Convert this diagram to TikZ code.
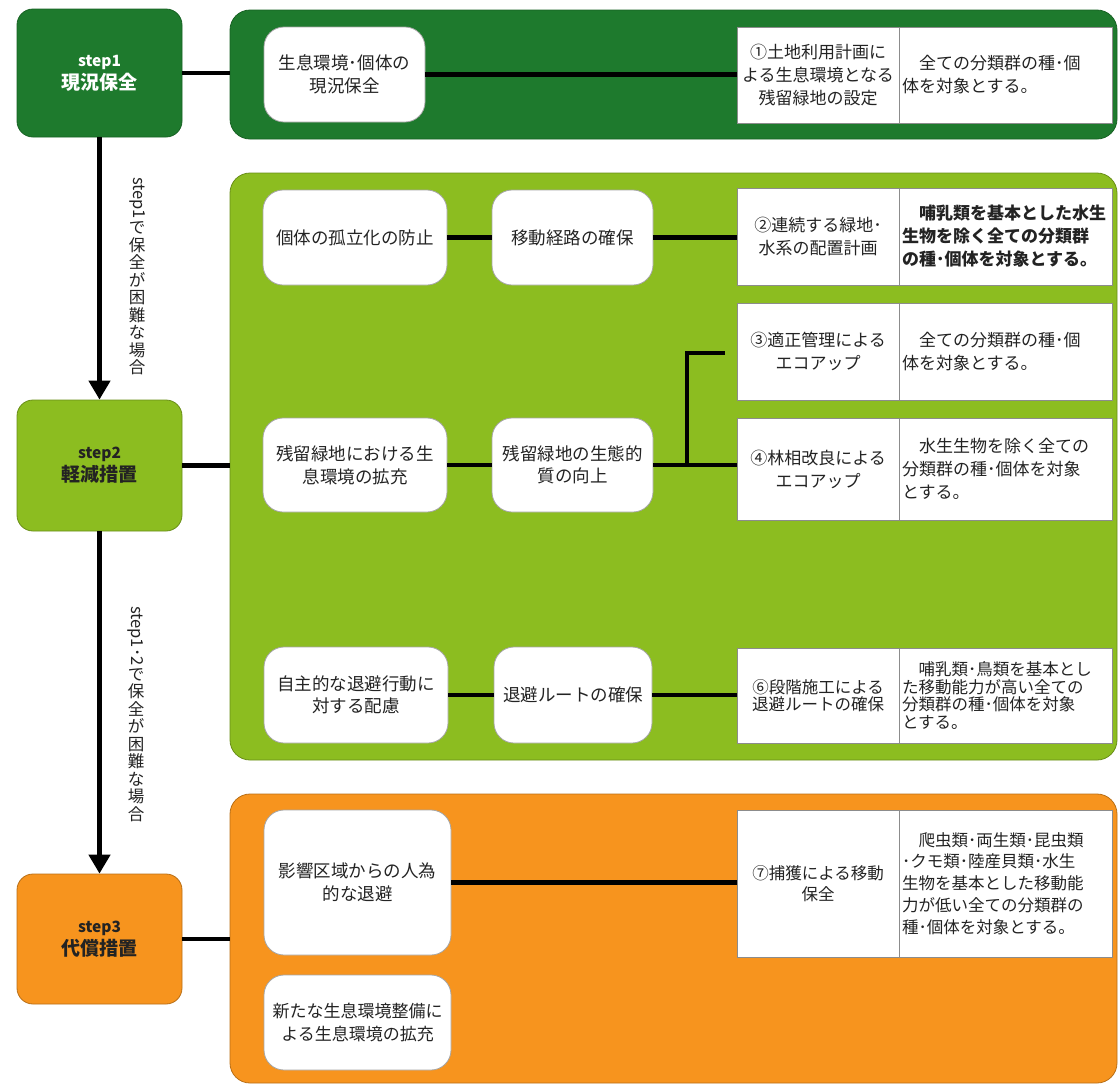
\documentclass[tikz,border=0pt]{standalone}
\usepackage{fontspec}
\usepackage{graphicx}
\setmainfont{Noto Sans CJK JP}
\usetikzlibrary{arrows.meta}
\definecolor{dgreen}{RGB}{30,122,45}
\definecolor{lgreen}{RGB}{140,189,32}
\definecolor{orng}{RGB}{247,148,30}
\definecolor{txt}{RGB}{35,35,35}
\tikzset{
  stepbox/.style={rounded corners=16pt, minimum width=165pt, align=center, line width=0.8pt,
     font=\bfseries\fontsize{19}{23}\selectfont},
  panel/.style={rounded corners=20pt, minimum width=887pt, line width=0.8pt},
  wbox/.style={rounded corners=20pt, fill=white, draw=black!35, line width=0.8pt, align=center,
     text=txt, font=\fontsize{17.5}{22.5}\selectfont},
  cellL/.style={fill=white, draw=black!45, line width=0.8pt, minimum width=162pt, align=center,
     text=txt, font=\fontsize{17}{23}\selectfont, inner sep=2pt},
  cellR/.style={fill=white, draw=black!45, line width=0.8pt, minimum width=213pt, text width=207pt,
     align=left, text=txt, font=\fontsize{17}{23}\selectfont, inner sep=3pt},
  conn/.style={line width=4.5pt, black},
  darrow/.style={line width=4.5pt, black, -{Triangle[width=21pt,length=19pt]}},
  vlabel/.style={align=center, text=txt, font=\fontsize{16.5}{17.5}\selectfont, inner sep=0pt, anchor=north},
}
\begin{document}
\begin{tikzpicture}[x=1pt,y=-1pt]
\useasboundingbox[fill=white] (0,0) rectangle (1119,1085);

% step boxes
\node[stepbox, fill=dgreen, draw=dgreen!80!black, minimum height=128pt, text=white] (s1) at (99.5,73) {\fontsize{15.5}{19}\selectfont step1\\現況保全};
\node[stepbox, fill=lgreen, draw=lgreen!75!black, minimum height=131pt, text=txt] (s2) at (99.5,465.5) {\fontsize{15.5}{19}\selectfont step2\\軽減措置};
\node[stepbox, fill=orng, draw=orng!75!black, minimum height=130pt, text=txt] (s3) at (99.5,939) {\fontsize{15.5}{19}\selectfont step3\\代償措置};

% panels
\node[panel, fill=dgreen, draw=dgreen!80!black, minimum height=129pt] (p1) at (673.5,74.5) {};
\node[panel, fill=lgreen, draw=lgreen!75!black, minimum height=587pt] (p2) at (673.5,466.5) {};
\node[panel, fill=orng, draw=orng!75!black, minimum height=289pt] (p3) at (673.5,938.5) {};

% vertical arrows with labels
\draw[darrow] (s1.south) -- (s2.north);
\draw[darrow] (s2.south) -- (s3.north);
\node[vlabel] (l1) at (137,177) {\rotatebox{-90}{step1}\\[2pt]で\\保\\全\\が\\困\\難\\な\\場\\合};
\node[vlabel] (l2) at (136,606) {\rotatebox{-90}{step1･2}\\[2pt]で\\保\\全\\が\\困\\難\\な\\場\\合};

% step -> panel connectors
\draw[conn] (s1.east) -- (s1.east -| p1.west);
\draw[conn] (s2.east) -- (s2.east -| p2.west);
\draw[conn] (s3.east) -- (s3.east -| p3.west);

% white boxes
\node[wbox, minimum width=161pt, minimum height=95pt] (a1) at (344.5,74.5) {生息環境･個体の\\現況保全};
\node[wbox, minimum width=184pt, minimum height=95pt] (b1) at (355,237.5) {個体の孤立化の防止};
\node[wbox, minimum width=161pt, minimum height=95pt] (b2) at (572.5,237.5) {移動経路の確保};
\node[wbox, minimum width=184pt, minimum height=94pt] (c1) at (355,465) {残留緑地における生\\息環境の拡充};
\node[wbox, minimum width=161pt, minimum height=94pt] (c2) at (572.5,465) {残留緑地の生態的\\質の向上};
\node[wbox, minimum width=184pt, minimum height=96pt] (d1) at (356,695) {自主的な退避行動に\\対する配慮};
\node[wbox, minimum width=158pt, minimum height=96pt] (d2) at (573,695) {退避ルートの確保};
\node[wbox, minimum width=187pt, minimum height=145pt] (e1) at (357.5,882.5) {影響区域からの人為\\的な退避};
\node[wbox, minimum width=187pt, minimum height=95pt, font=\fontsize{17}{22.5}\selectfont] (e2) at (357.5,1022.5) {新たな生息環境整備に\\よる生息環境の拡充};

% table cells
\node[cellL, minimum height=96pt] (t1l) at (818,75) {①土地利用計画に\\よる生息環境となる\\残留緑地の設定};
\node[cellR, minimum height=96pt] (t1r) at (1005.5,75) {\hspace*{1em}全ての分類群の種･個\\体を対象とする。};

\node[cellL, minimum height=97pt] (t2l) at (818,236.5) {②連続する緑地･\\水系の配置計画};
\node[cellR, minimum height=97pt, font=\bfseries\fontsize{17}{23}\selectfont] (t2r) at (1005.5,236.5) {\hspace*{1em}哺乳類を基本とした水生\\生物を除く全ての分類群\\の種･個体を対象とする。};

\node[cellL, minimum height=97pt] (t3l) at (818,351.5) {③適正管理による\\エコアップ};
\node[cellR, minimum height=97pt] (t3r) at (1005.5,351.5) {\hspace*{1em}全ての分類群の種･個\\体を対象とする。};

\node[cellL, minimum height=102pt] (t4l) at (818,469) {④林相改良による\\エコアップ};
\node[cellR, minimum height=102pt] (t4r) at (1005.5,469) {\hspace*{1em}水生生物を除く全ての\\分類群の種･個体を対象\\とする。};

\node[cellL, minimum height=95pt, font=\fontsize{16.5}{17.5}\selectfont] (t6l) at (818,695.5) {⑥段階施工による\\退避ルートの確保};
\node[cellR, minimum height=95pt, font=\fontsize{16.5}{17.5}\selectfont] (t6r) at (1005.5,695.5) {\hspace*{1em}哺乳類･鳥類を基本とし\\た移動能力が高い全ての\\分類群の種･個体を対象\\とする。};

\node[cellL, minimum height=147pt, font=\fontsize{16.5}{21}\selectfont] (t7l) at (818,883.5) {⑦捕獲による移動\\保全};
\node[cellR, minimum height=147pt, font=\fontsize{16.5}{21.8}\selectfont] (t7r) at (1005.5,883.5) {\hspace*{1em}爬虫類･両生類･昆虫類\\･クモ類･陸産貝類･水生\\生物を基本とした移動能\\力が低い全ての分類群の\\種･個体を対象とする。};

% connectors inside panels
\draw[conn] (a1.east) -- (a1.east -| t1l.west);
\draw[conn] (b1.east) -- (b2.west);
\draw[conn] (b2.east) -- (b2.east -| t2l.west);
\draw[conn] (c1.east) -- (c2.west);
\draw[conn] (c2.east) -- (c2.east -| t4l.west);
\coordinate (br) at (687,465);
\coordinate (brend) at (725,353);
\draw[conn] (br) |- (brend);
\draw[conn] (d1.east) -- (d2.west);
\draw[conn] (d2.east) -- (d2.east -| t6l.west);
\draw[conn] (e1.east) -- (e1.east -| t7l.west);
\end{tikzpicture}
\end{document}
